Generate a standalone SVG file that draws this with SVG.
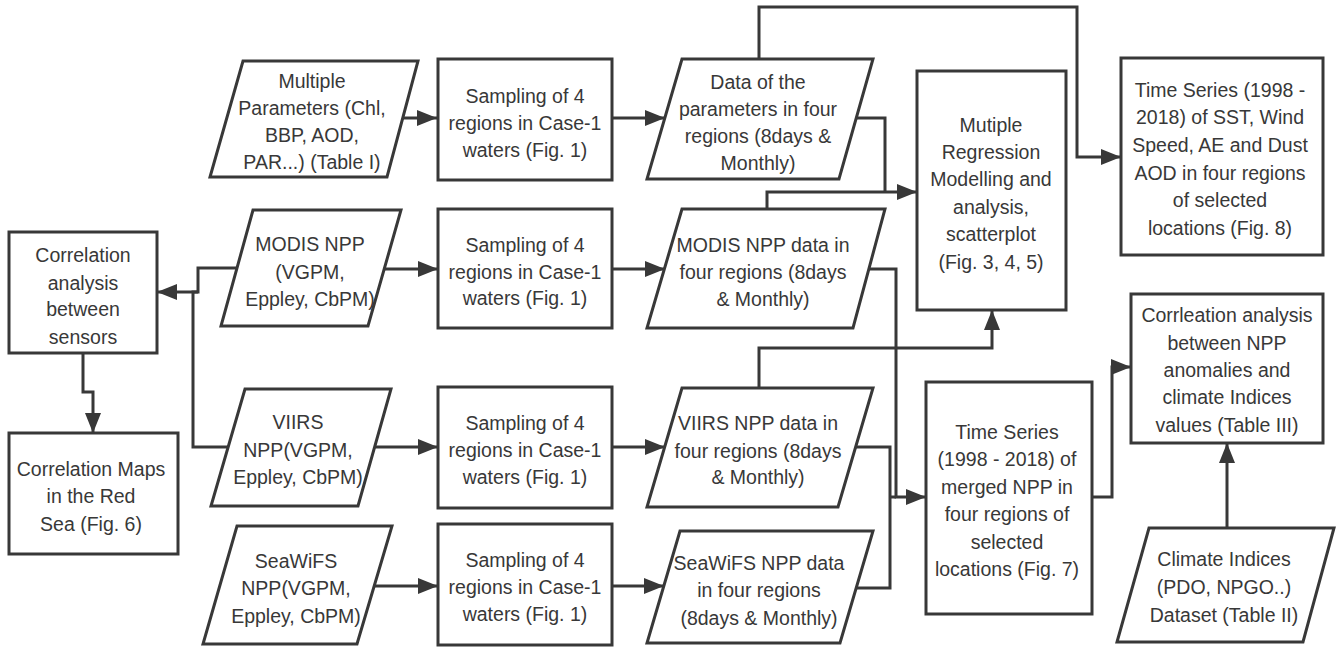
<svg xmlns="http://www.w3.org/2000/svg" width="1336" height="649" viewBox="0 0 1336 649">
<defs>
<style>
.n{fill:#fff;stroke:#383838;stroke-width:3;stroke-linejoin:miter}
.c{fill:none;stroke:#383838;stroke-width:3}
text{font-family:"Liberation Sans",Arial,sans-serif;font-size:19.5px;fill:#383838;text-anchor:middle}
</style>
<marker id="ah" markerUnits="userSpaceOnUse" markerWidth="20" markerHeight="16" refX="20" refY="8" orient="auto">
<path d="M0,0 L20,8 L0,16 z" fill="#383838"/>
</marker>
</defs>
<rect width="1336" height="649" fill="#fff"/>
<g id="connectors">
<path class="c" d="M400,118 H437" marker-end="url(#ah)"/>
<path class="c" d="M612,118 H665" marker-end="url(#ah)"/>
<path class="c" d="M759,59 V7 H1077 V157 H1121" marker-end="url(#ah)"/>
<path class="c" d="M856,118 H885 V192"/>
<path class="c" d="M767,209 V192 H917" marker-end="url(#ah)"/>
<path class="c" d="M384,269 H438" marker-end="url(#ah)"/>
<path class="c" d="M612,269 H665" marker-end="url(#ah)"/>
<path class="c" d="M869,269 H896 V497 H926" marker-end="url(#ah)"/>
<path class="c" d="M856,447 H890 V588 H856"/>
<path class="c" d="M890,497 H896"/>
<path class="c" d="M759,388 V348 H992 V310" marker-end="url(#ah)"/>
<path class="c" d="M1092,497 H1112 V367 H1131" marker-end="url(#ah)"/>
<path class="c" d="M1227,528 V443" marker-end="url(#ah)"/>
<path class="c" d="M237,268 H198 V292 H157" marker-end="url(#ah)"/>
<path class="c" d="M228,447 H193 V292 H198"/>
<path class="c" d="M83,353 V392 H93 V433" marker-end="url(#ah)"/>
<path class="c" d="M375,447 H438" marker-end="url(#ah)"/>
<path class="c" d="M612,447 H665" marker-end="url(#ah)"/>
<path class="c" d="M374,586 H438" marker-end="url(#ah)"/>
<path class="c" d="M612,586 H664" marker-end="url(#ah)"/>
</g>
<g id="multiple-parameters">
<polygon class="n" points="243,61 418,61 387,177 210,177"/>
<text x="312" y="88">Multiple</text>
<text x="312" y="115">Parameters (Chl,</text>
<text x="312" y="142">BBP, AOD,</text>
<text x="312" y="169">PAR...) (Table I)</text>
</g>
<g id="sampling-1">
<rect class="n" x="438" y="59" width="174" height="121"/>
<text x="525" y="103">Sampling of 4</text>
<text x="525" y="130">regions in Case-1</text>
<text x="525" y="157">waters (Fig. 1)</text>
</g>
<g id="data-parameters">
<polygon class="n" points="682,59 873,59 839,179 647,179"/>
<text x="758" y="89">Data of the</text>
<text x="758" y="116">parameters in four</text>
<text x="758" y="143">regions (8days &amp;</text>
<text x="758" y="170">Monthly)</text>
</g>
<g id="multiple-regression">
<rect class="n" x="917" y="71" width="149" height="239"/>
<text x="991" y="132">Mutiple</text>
<text x="991" y="159">Regression</text>
<text x="991" y="186">Modelling and</text>
<text x="991" y="214">analysis,</text>
<text x="991" y="241">scatterplot</text>
<text x="991" y="269">(Fig. 3, 4, 5)</text>
</g>
<g id="time-series-sst">
<rect class="n" x="1121" y="58" width="202" height="197"/>
<text x="1220" y="97">Time Series (1998 -</text>
<text x="1220" y="124">2018) of SST, Wind</text>
<text x="1220" y="152">Speed, AE and Dust</text>
<text x="1220" y="180">AOD in four regions</text>
<text x="1220" y="207">of selected</text>
<text x="1220" y="235">locations (Fig. 8)</text>
</g>
<g id="correlation-sensors">
<rect class="n" x="9" y="232" width="148" height="121"/>
<text x="83" y="262">Correlation</text>
<text x="83" y="290">analysis</text>
<text x="83" y="316">between</text>
<text x="83" y="344">sensors</text>
</g>
<g id="modis-npp">
<polygon class="n" points="253,210 401,210 368,326 221,326"/>
<text x="310" y="251">MODIS NPP</text>
<text x="310" y="279">(VGPM,</text>
<text x="310" y="306">Eppley, CbPM)</text>
</g>
<g id="sampling-2">
<rect class="n" x="438" y="209" width="174" height="119"/>
<text x="525" y="252">Sampling of 4</text>
<text x="525" y="279">regions in Case-1</text>
<text x="525" y="305">waters (Fig. 1)</text>
</g>
<g id="modis-data">
<polygon class="n" points="682,209 885,209 853,328 647,328"/>
<text x="763" y="252">MODIS NPP data in</text>
<text x="763" y="279">four regions (8days</text>
<text x="763" y="306">&amp; Monthly)</text>
</g>
<g id="correlation-maps">
<rect class="n" x="9" y="433" width="169" height="121"/>
<text x="91" y="476">Correlation Maps</text>
<text x="91" y="503">in the Red</text>
<text x="91" y="531">Sea (Fig. 6)</text>
</g>
<g id="viirs-npp">
<polygon class="n" points="245,389 391,389 358,506 211,506"/>
<text x="298" y="429">VIIRS</text>
<text x="298" y="457">NPP(VGPM,</text>
<text x="298" y="484">Eppley, CbPM)</text>
</g>
<g id="sampling-3">
<rect class="n" x="438" y="387" width="174" height="121"/>
<text x="525" y="430">Sampling of 4</text>
<text x="525" y="457">regions in Case-1</text>
<text x="525" y="484">waters (Fig. 1)</text>
</g>
<g id="viirs-data">
<polygon class="n" points="682,388 873,388 838,507 647,507"/>
<text x="758" y="430">VIIRS NPP data in</text>
<text x="758" y="458">four regions (8days</text>
<text x="758" y="484">&amp; Monthly)</text>
</g>
<g id="time-series-npp">
<rect class="n" x="926" y="382" width="166" height="232"/>
<text x="1007" y="439">Time Series</text>
<text x="1007" y="466">(1998 - 2018) of</text>
<text x="1007" y="494">merged NPP in</text>
<text x="1007" y="521">four regions of</text>
<text x="1007" y="549">selected</text>
<text x="1007" y="576">locations (Fig. 7)</text>
</g>
<g id="correlation-climate">
<rect class="n" x="1131" y="294" width="192" height="149"/>
<text x="1227" y="322">Corrleation analysis</text>
<text x="1227" y="350">between NPP</text>
<text x="1227" y="377">anomalies and</text>
<text x="1227" y="404">climate Indices</text>
<text x="1227" y="432">values (Table III)</text>
</g>
<g id="seawifs-npp">
<polygon class="n" points="237,526 392,526 357,644 203,644"/>
<text x="296" y="568">SeaWiFS</text>
<text x="296" y="595">NPP(VGPM,</text>
<text x="296" y="623">Eppley, CbPM)</text>
</g>
<g id="sampling-4">
<rect class="n" x="438" y="524" width="174" height="121"/>
<text x="525" y="567">Sampling of 4</text>
<text x="525" y="594">regions in Case-1</text>
<text x="525" y="621">waters (Fig. 1)</text>
</g>
<g id="seawifs-data">
<polygon class="n" points="680,531 873,531 840,643 647,643"/>
<text x="759" y="570">SeaWiFS NPP data</text>
<text x="759" y="597">in four regions</text>
<text x="759" y="625">(8days &amp; Monthly)</text>
</g>
<g id="climate-indices">
<polygon class="n" points="1149,528 1334,528 1303,642 1117,642"/>
<text x="1224" y="566">Climate Indices</text>
<text x="1224" y="594">(PDO, NPGO..)</text>
<text x="1224" y="622">Dataset (Table II)</text>
</g>
</svg>
